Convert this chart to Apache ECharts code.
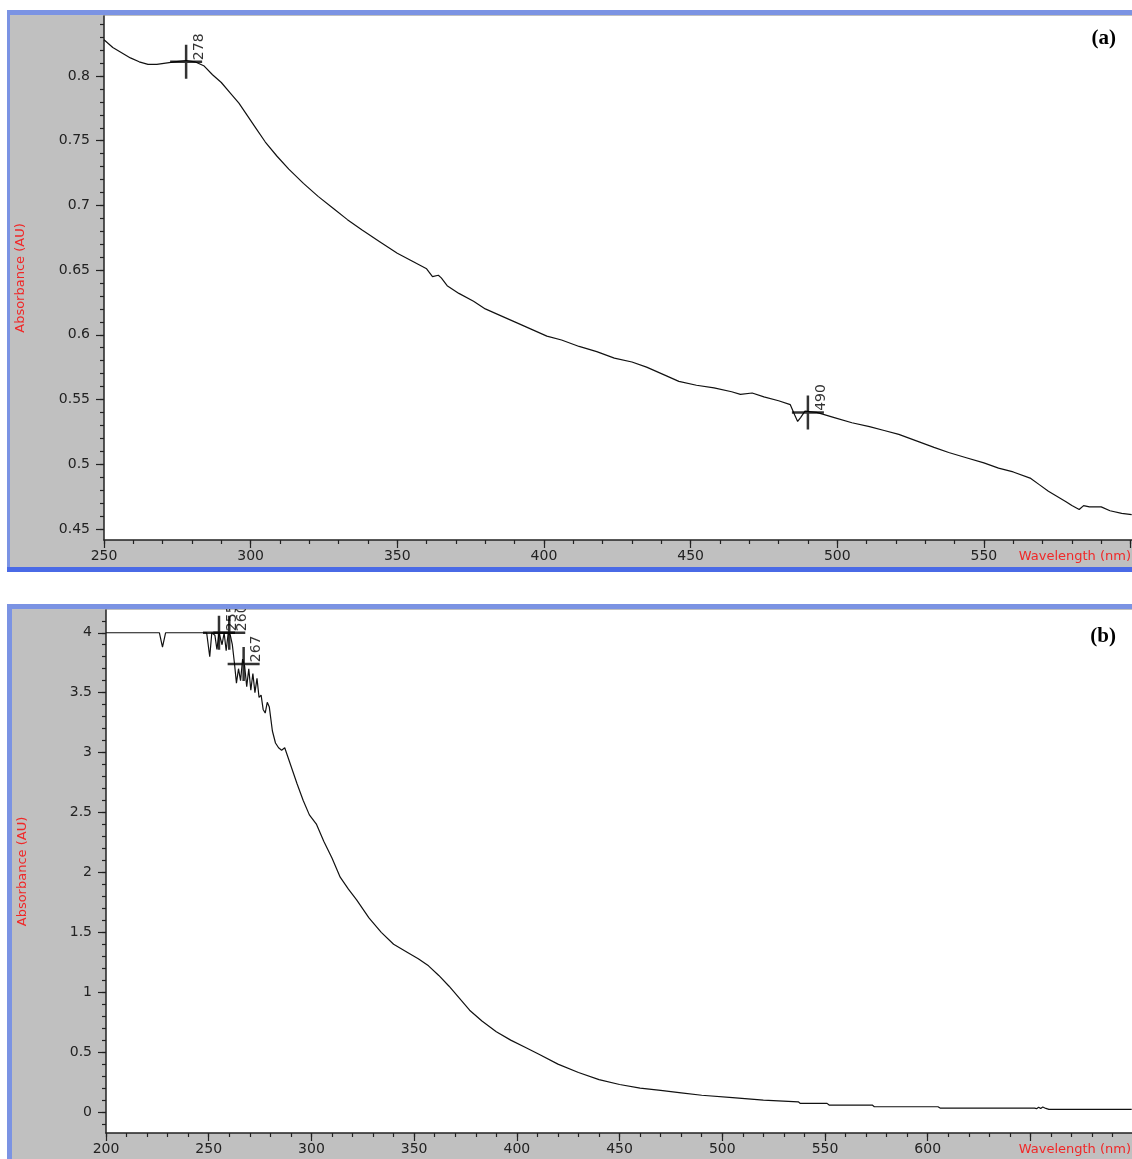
<!DOCTYPE html>
<html>
<head>
<meta charset="utf-8">
<script src="https://cdn.jsdelivr.net/npm/echarts@6/dist/echarts.min.js"></script>
<style>
  html, body { margin: 0; padding: 0; background: #fff; }
  #main { width: 1132px; height: 1159px; }
</style>
</head>
<body>
<div id="main"></div>
<script>
// (a) 光谱数据
const waveA = [250, 253, 256, 259, 262, 265, 268, 271, 274, 278, 281, 284, 287, 290, 293, 296, 299, 302, 305, 309, 313, 318, 323, 328, 333, 338, 344, 350, 355, 360, 362, 364, 365, 367, 371, 376, 380, 385, 391, 396, 401, 406, 412, 418, 424, 430, 435, 441, 446, 452, 458, 464, 467, 471, 475, 480, 484, 485.5, 486.5, 487.5, 489, 493, 499, 505, 511, 516, 521, 527, 533, 538, 544, 550, 555, 560, 566, 569, 572, 575, 578, 580, 582.5, 584, 586, 590, 593, 597, 600.4]
const absA = [0.828, 0.822, 0.818, 0.814, 0.811, 0.809, 0.809, 0.810, 0.811, 0.812, 0.811, 0.808, 0.801, 0.795, 0.787, 0.779, 0.769, 0.759, 0.749, 0.738, 0.728, 0.717, 0.707, 0.698, 0.689, 0.681, 0.672, 0.663, 0.657, 0.651, 0.645, 0.646, 0.644, 0.638, 0.632, 0.626, 0.620, 0.615, 0.609, 0.604, 0.599, 0.596, 0.591, 0.587, 0.582, 0.579, 0.575, 0.569, 0.564, 0.561, 0.559, 0.556, 0.554, 0.555, 0.552, 0.549, 0.546, 0.538, 0.533, 0.536, 0.541, 0.540, 0.536, 0.532, 0.529, 0.526, 0.523, 0.518, 0.513, 0.509, 0.505, 0.501, 0.497, 0.494, 0.489, 0.484, 0.479, 0.475, 0.471, 0.468, 0.465, 0.468, 0.467, 0.467, 0.464, 0.462, 0.461]
const peakWaveA = [278, 490]
const peakAbsA = [0.811, 0.540]

// (b) 光谱数据
const waveB = [200, 226, 227.5, 229, 249, 250.5, 251.5, 253, 254, 255, 256.5, 257.5, 258.5, 259.5, 260.5, 261.5, 262.5, 263.5, 264.5, 265.5, 266.5, 267.5, 268.5, 269.5, 270.5, 271.5, 272.5, 273.5, 274.5, 275.5, 276.5, 277.5, 278.5, 279.5, 281, 282.5, 284, 285.5, 287, 289, 291, 293, 296, 299, 302.5, 306, 310, 314, 318, 322, 328, 334, 340, 347, 352, 357, 362, 367, 372, 377, 383, 390, 397, 404, 411, 420, 430, 440, 450, 460, 470, 480, 490, 505, 520, 537, 538, 551, 552, 573, 574, 605, 606, 652, 653, 654, 655, 656, 657.5, 659, 699.3]
const absB = [4.0, 4.0, 3.88, 4.0, 4.0, 3.80, 4.0, 3.98, 3.86, 4.0, 3.90, 4.0, 3.85, 4.0, 3.98, 3.90, 3.75, 3.58, 3.70, 3.60, 3.78, 3.72, 3.55, 3.70, 3.52, 3.66, 3.50, 3.62, 3.46, 3.48, 3.36, 3.33, 3.42, 3.38, 3.18, 3.08, 3.04, 3.02, 3.04, 2.94, 2.84, 2.74, 2.60, 2.48, 2.40, 2.26, 2.12, 1.96, 1.86, 1.77, 1.62, 1.50, 1.40, 1.33, 1.28, 1.22, 1.14, 1.05, 0.95, 0.85, 0.76, 0.67, 0.60, 0.54, 0.48, 0.40, 0.33, 0.27, 0.23, 0.20, 0.18, 0.16, 0.14, 0.12, 0.10, 0.085, 0.072, 0.072, 0.058, 0.058, 0.044, 0.044, 0.033, 0.033, 0.028, 0.040, 0.030, 0.042, 0.030, 0.022, 0.022]
const peakWaveB = [255, 260, 267]
const peakAbsB = [4.0, 4.0, 3.74]

// 刻度
const xLabelsA = [250, 300, 350, 400, 450, 500, 550]
const xMajorA = [250, 300, 350, 400, 450, 500, 550, 600]
const yLabelsA = [0.45, 0.5, 0.55, 0.6, 0.65, 0.7, 0.75, 0.8]
const xLabelsB = [200, 250, 300, 350, 400, 450, 500, 550, 600]
const xMajorB = [200, 250, 300, 350, 400, 450, 500, 550, 600, 650]
const yLabelsB = [0, 0.5, 1, 1.5, 2, 2.5, 3, 3.5, 4]

const steps = (from, to, step) => {
  const out = []
  for (let v = from; v <= to + 1e-9; v += step) out.push(+v.toFixed(4))
  return out
}

const red = '#f02828'
const ink = '#222'
const font = 'DejaVu Sans'
const plus = 'path://M-1.25,-17H1.25V-1.25H16V1.25H1.25V17H-1.25V1.25H-16V-1.25H-1.25Z'

const majorX = (grid, min, max, ticks, labels) => ({
  gridIndex: grid, type: 'value', position: 'bottom', min, max,
  axisLine: { onZero: false, lineStyle: { color: ink, width: 1.5 } },
  axisTick: { customValues: ticks, length: 8, lineStyle: { color: ink, width: 1.2 } },
  axisLabel: { customValues: labels, margin: 9, color: ink, fontSize: 14, fontFamily: font },
  splitLine: { show: false },
  name: 'Wavelength (nm)', nameLocation: 'end', nameGap: -113,
  nameTextStyle: { color: red, fontSize: 13, fontFamily: font, align: 'left', verticalAlign: 'top', padding: [10, 0, 0, 0] }
})
const minorX = (grid, min, max, ticks) => ({
  gridIndex: grid, type: 'value', position: 'bottom', min, max,
  axisLine: { show: false, onZero: false },
  axisTick: { customValues: ticks, length: 4, lineStyle: { color: ink, width: 1.2 } },
  axisLabel: { show: false }, splitLine: { show: false }
})
const majorY = (grid, min, max, labels) => ({
  gridIndex: grid, type: 'value', position: 'left', min, max,
  axisLine: { show: true, onZero: false, lineStyle: { color: ink, width: 1.5 } },
  axisTick: { show: true, customValues: labels, length: 8, lineStyle: { color: ink, width: 1.2 } },
  axisLabel: { customValues: labels, margin: 14, color: ink, fontSize: 14, fontFamily: font },
  splitLine: { show: false },
  name: 'Absorbance (AU)', nameLocation: 'middle', nameRotate: 90, nameGap: 77,
  nameTextStyle: { color: red, fontSize: 13, fontFamily: font }
})
const minorY = (grid, min, max, ticks) => ({
  gridIndex: grid, type: 'value', position: 'left', min, max,
  axisLine: { show: false, onZero: false },
  axisTick: { show: true, customValues: ticks, length: 4, lineStyle: { color: ink, width: 1.2 } },
  axisLabel: { show: false }, splitLine: { show: false }
})

const peakSeries = (axis, waves, values) => ({
  type: 'scatter', xAxisIndex: axis, yAxisIndex: axis,
  symbol: plus, symbolSize: [32, 34], z: 5,
  itemStyle: { color: '#000' },
  label: { show: true, position: 'inside', rotate: 90, offset: [15, 13], formatter: '{b}', color: '#000', fontSize: 14, fontFamily: font },
  data: waves.map((w, i) => ({ name: String(w), value: [w, values[i]] }))
})

const lineSeries = (axis, waves, values) => ({
  type: 'line', xAxisIndex: axis, yAxisIndex: axis,
  showSymbol: false, z: 3,
  lineStyle: { color: '#111', width: 1.2 },
  data: waves.map((w, i) => [w, values[i]])
})

var myChart = echarts.init(document.querySelector('#main'))
const option = {
  animation: false,
  backgroundColor: '#fff',
  title: [
    { text: '(a)', right: 16, top: 28, padding: 0, textStyle: { fontFamily: 'Liberation Serif', fontWeight: 'bold', fontSize: 21, color: '#000' } },
    { text: '(b)', right: 16, top: 626, padding: 0, textStyle: { fontFamily: 'Liberation Serif', fontWeight: 'bold', fontSize: 21, color: '#000' } }
  ],
  grid: [
    { left: 104, top: 16, width: 1028, height: 524 },
    { left: 106, top: 610, width: 1026, height: 523 }
  ],
  xAxis: [
    majorX(0, 250, 600.4, xMajorA, xLabelsA),
    minorX(0, 250, 600.4, steps(250, 600, 10)),
    majorX(1, 200, 699.3, xMajorB, xLabelsB),
    minorX(1, 200, 699.3, steps(200, 690, 10))
  ],
  yAxis: [
    majorY(0, 0.4414, 0.8464, yLabelsA),
    minorY(0, 0.4414, 0.8464, steps(0.45, 0.84, 0.01)),
    majorY(1, -0.175, 4.19, yLabelsB),
    minorY(1, -0.175, 4.19, steps(-0.1, 4.1, 0.1))
  ],
  // 面板背景和蓝色边框
  graphic: [
    { type: 'rect', z: -10, shape: { x: 8, y: 12, width: 1124, height: 558 }, style: { fill: '#c0c0c0' } },
    { type: 'rect', z: -9, shape: { x: 104, y: 16, width: 1028, height: 524 }, style: { fill: '#fff' } },
    { type: 'rect', z: 50, shape: { x: 7, y: 10, width: 1125, height: 5 }, style: { fill: '#7b93e3' } },
    { type: 'rect', z: 50, shape: { x: 7, y: 10, width: 3, height: 562 }, style: { fill: '#7b93e3' } },
    { type: 'rect', z: 50, shape: { x: 7, y: 567, width: 1125, height: 5 }, style: { fill: '#4a6ae6' } },
    { type: 'rect', z: -10, shape: { x: 8, y: 606, width: 1124, height: 553 }, style: { fill: '#c0c0c0' } },
    { type: 'rect', z: -9, shape: { x: 106, y: 610, width: 1026, height: 523 }, style: { fill: '#fff' } },
    { type: 'rect', z: 50, shape: { x: 7, y: 604, width: 1125, height: 5 }, style: { fill: '#7b93e3' } },
    { type: 'rect', z: 50, shape: { x: 7, y: 604, width: 5, height: 555 }, style: { fill: '#7b93e3' } }
  ],
  series: [
    lineSeries(0, waveA, absA),
    peakSeries(0, peakWaveA, peakAbsA),
    lineSeries(2, waveB, absB),
    peakSeries(2, peakWaveB, peakAbsB)
  ]
}
myChart.setOption(option)
</script>
</body>
</html>
